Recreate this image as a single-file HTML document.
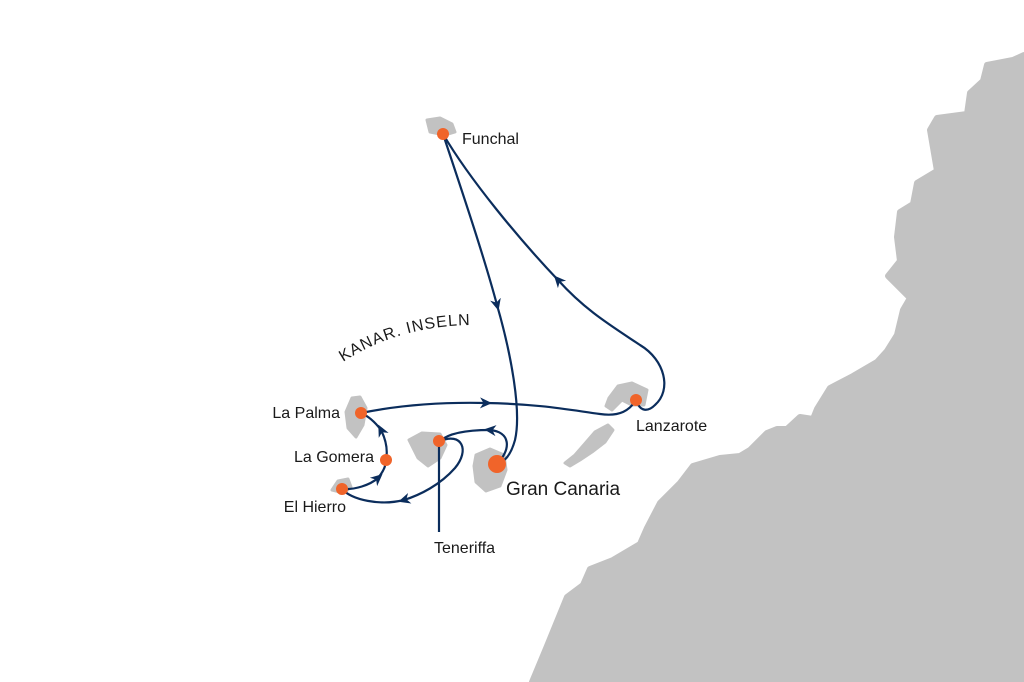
<!DOCTYPE html>
<html><head><meta charset="utf-8"><style>
html,body{margin:0;padding:0;background:#fff;}
svg{display:block;}
text{font-family:"Liberation Sans",sans-serif;fill:#1a1a1a;font-size:16px;}
</style></head><body>
<svg width="1024" height="682" viewBox="0 0 1024 682" xmlns="http://www.w3.org/2000/svg">
<defs>
<marker id="a" viewBox="0 0 12 12" refX="6" refY="6" markerWidth="12" markerHeight="12" orient="auto" markerUnits="userSpaceOnUse">
<path d="M0,0.5 L12,6 L0,11.5 L3.5,6 Z" fill="#0b2d5c"/>
</marker>
</defs>
<path d="M1024,55 L1013,60 L987,65 L983,81 L970,93 L967,114 L937,118 L930,130 L937,171 L917,183 L913,204 L900,212 L897,237 L900,261 L888,276 L910,298 L903,310 L897,335 L887,351 L877,362 L853,376 L830,388 L817,409 L813,419 L800,417 L787,429 L777,429 L767,433 L750,450 L740,456 L720,458 L693,466 L680,483 L660,503 L647,528 L640,544 L613,560 L590,569 L583,585 L567,597 L547,646 L532,682 L1024,682 Z" fill="#c2c2c2" stroke="#c2c2c2" stroke-width="6" stroke-linejoin="round"/>
<g fill="#c2c2c2" stroke="#c2c2c2" stroke-width="3" stroke-linejoin="round">
<path d="M427,120 L440,118 L452,124 L455,132 L445,135 L430,132 Z"/>
<path d="M352,398 L360,397 L366,408 L363,425 L356,437 L348,428 L346,412 Z"/>
<path d="M409,440 L422,433 L440,434 L446,445 L440,458 L428,466 L418,458 Z"/>
<path d="M476,455 L490,449 L504,455 L506,470 L500,486 L486,491 L476,482 L474,466 Z"/>
<path d="M565,463 L575,455 L582,447 L595,432 L608,425 L613,430 L605,442 L592,452 L580,460 L570,466 Z"/>
<path d="M609,398 L618,386 L632,383 L647,390 L644,405 L632,405 L622,400 L612,410 L606,406 Z"/>
<path d="M332,490 L338,481 L348,479 L351,487 L344,493 Z"/>
</g>
<g fill="none" stroke="#0b2d5c" stroke-width="2.2">
<path d="M443,134 C465,200 485,260 497,305" marker-end="url(#a)"/>
<path d="M497,305 C510,350 522,410 515,440 C510,458 503,462 497,464"/>
<path d="M497,464 C512,448 510,432 490,430" marker-end="url(#a)"/>
<path d="M490,430 C470,430 450,432 440,441"/>
<path d="M440,441 C462,432 470,450 455,468 C440,485 420,495 404,500" marker-end="url(#a)"/>
<path d="M404,500 C380,506 352,500 342,489"/>
<path d="M342,489 C355,490 370,485 378,478" marker-end="url(#a)"/>
<path d="M378,478 C383,472 386,466 386,460 C388,450 386,440 381,430" marker-end="url(#a)"/>
<path d="M381,430 C375,422 368,416 361,413"/>
<path d="M361,413 C400,405 440,402 486,403" marker-end="url(#a)"/>
<path d="M486,403 C540,404 570,410 600,414 C620,417 630,410 636,400 C640,412 648,412 655,405 C672,390 665,360 640,345 C610,325 585,310 558,280" marker-end="url(#a)"/>
<path d="M558,280 C520,240 470,180 443,134"/>
<path d="M439,441 L439,532"/>
</g>
<g fill="#f0642a">
<circle cx="443" cy="134" r="6"/>
<circle cx="361" cy="413" r="6"/>
<circle cx="386" cy="460" r="6"/>
<circle cx="342" cy="489" r="6"/>
<circle cx="439" cy="441" r="6"/>
<circle cx="497" cy="464" r="9"/>
<circle cx="636" cy="400" r="6"/>
</g>
<text x="462" y="144">Funchal</text>
<path id="k" d="M343,362 Q400,325 475,325" fill="none"/>
<text style="letter-spacing:1px"><textPath href="#k">KANAR. INSELN</textPath></text>
<text x="340" y="418" text-anchor="end">La Palma</text>
<text x="374" y="462" text-anchor="end">La Gomera</text>
<text x="346" y="512" text-anchor="end">El Hierro</text>
<text x="434" y="553">Teneriffa</text>
<text x="506" y="495" style="font-size:19px">Gran Canaria</text>
<text x="636" y="431">Lanzarote</text>
</svg>
</body></html>
